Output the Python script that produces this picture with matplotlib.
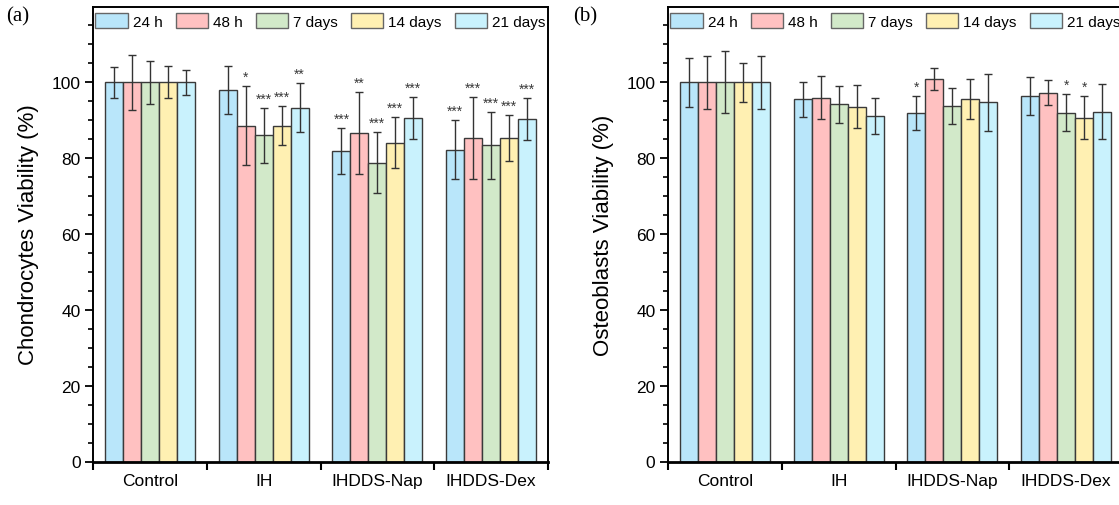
import matplotlib
matplotlib.use("Agg")
import matplotlib.pyplot as plt
import numpy as np

plt.rcParams['font.family'] = ['Liberation Sans', 'DejaVu Sans']

groups = ["Control", "IH", "IHDDS-Nap", "IHDDS-Dex"]
series = ["24 h", "48 h", "7 days", "14 days", "21 days"]
colors = ["#b9e6fa", "#ffc1c1", "#d2e9c9", "#fff0b2", "#c9f2fd"]

# Chondrocytes viability (%) : rows = series, cols = groups
chondro_mean = [
    [100.0, 97.9, 81.9, 82.2],
    [100.0, 88.6, 86.7, 85.3],
    [100.0, 86.0, 78.8, 83.4],
    [100.0, 88.6, 84.1, 85.3],
    [100.0, 93.3, 90.6, 90.4],
]
chondro_err = [
    [4.0, 6.3, 6.1, 7.8],
    [7.3, 10.5, 10.8, 10.9],
    [5.6, 7.2, 8.1, 8.8],
    [4.2, 5.1, 6.8, 6.0],
    [3.3, 6.4, 5.6, 5.5],
]
chondro_sig = [
    ["", "", "***", "***"],
    ["", "*", "**", "***"],
    ["", "***", "***", "***"],
    ["", "***", "***", "***"],
    ["", "**", "***", "***"],
]

# Osteoblasts viability (%)
osteo_mean = [
    [100.0, 95.5, 92.0, 96.3],
    [100.0, 96.0, 101.0, 97.2],
    [100.0, 94.2, 93.7, 92.0],
    [100.0, 93.6, 95.7, 90.7],
    [100.0, 91.2, 94.7, 92.3],
]
osteo_err = [
    [6.4, 4.7, 4.5, 5.0],
    [7.0, 5.6, 2.9, 3.3],
    [8.2, 4.8, 4.7, 4.8],
    [5.2, 5.6, 5.3, 5.6],
    [7.0, 4.7, 7.5, 7.2],
]
osteo_sig = [
    ["", "", "*", ""],
    ["", "", "", ""],
    ["", "", "", "*"],
    ["", "", "", "*"],
    ["", "", "", ""],
]

W, H = 1119, 506
fig = plt.figure(figsize=(W / 100, H / 100), dpi=100)

ax_w = 455 / W
ax_h = 455 / H
ax_b = 1 - 462.5 / H
axA = fig.add_axes([93 / W, ax_b, ax_w, ax_h])
axB = fig.add_axes([668 / W, ax_b, ax_w, ax_h])

bw = 0.158


def draw(ax, means, errs, sigs, ylabel):
    x = np.arange(len(groups))
    for i, (s, c) in enumerate(zip(series, colors)):
        off = (i - 2) * bw
        ax.bar(x + off, means[i], width=bw, color=c, edgecolor="#3a3a3a",
               linewidth=1.0, label=s, zorder=2)
        ax.errorbar(x + off, means[i], yerr=errs[i], fmt="none",
                    ecolor="#333333", elinewidth=1.0, capsize=3.2,
                    capthick=1.0, zorder=3)
        for j in range(len(groups)):
            if sigs[i][j]:
                ax.text(x[j] + off, means[i][j] + errs[i][j] + 0.6, sigs[i][j],
                        ha="center", va="bottom", fontsize=10,
                        color="#3a3a3a", zorder=4)
    ax.set_xlim(-0.5, len(groups) - 0.5)
    ax.set_ylim(0, 120)
    ax.set_yticks([0, 20, 40, 60, 80, 100])
    ax.set_yticks([v for v in range(5, 120, 5) if v % 20 != 0 or v > 100],
                  minor=True)
    ax.set_xticks(np.arange(len(groups) + 1) - 0.5)
    ax.set_xticklabels([])
    ax.set_xticks(x, minor=True)
    ax.set_xticklabels(groups, minor=True, fontsize=12.5)
    ax.tick_params(axis="x", which="minor", length=0, pad=8)
    ax.tick_params(axis="x", which="major", direction="out", length=6,
                   width=1.5)
    ax.tick_params(axis="y", which="major", direction="out", length=6,
                   width=1.3, labelsize=12.5, pad=3)
    ax.tick_params(axis="y", which="minor", direction="out", length=3.5,
                   width=1.2)
    ax.tick_params(top=False, right=False)
    for sp in ["left", "top", "right"]:
        ax.spines[sp].set_linewidth(1.4)
    ax.spines["bottom"].set_linewidth(2.0)
    ax.set_ylabel(ylabel, fontsize=16, labelpad=9)
    leg = ax.legend(loc="upper center", bbox_to_anchor=(0.5, 1.0), ncol=5,
                    frameon=False, fontsize=11, handlelength=2.1,
                    handleheight=1.05, handletextpad=0.35, columnspacing=0.85,
                    borderaxespad=0.0, borderpad=0.45)
    for p in leg.get_patches():
        p.set_edgecolor("#666666")


draw(axA, chondro_mean, chondro_err, chondro_sig, "Chondrocytes Viability (%)")
draw(axB, osteo_mean, osteo_err, osteo_sig, "Osteoblasts Viability (%)")

fig.text(6 / W, 1 - 7 / H, "(a)", family="Liberation Serif", fontsize=15,
         ha="left", va="top")
fig.text(573 / W, 1 - 7 / H, "(b)", family="Liberation Serif", fontsize=15,
         ha="left", va="top")

fig.savefig("out.png", dpi=100)
